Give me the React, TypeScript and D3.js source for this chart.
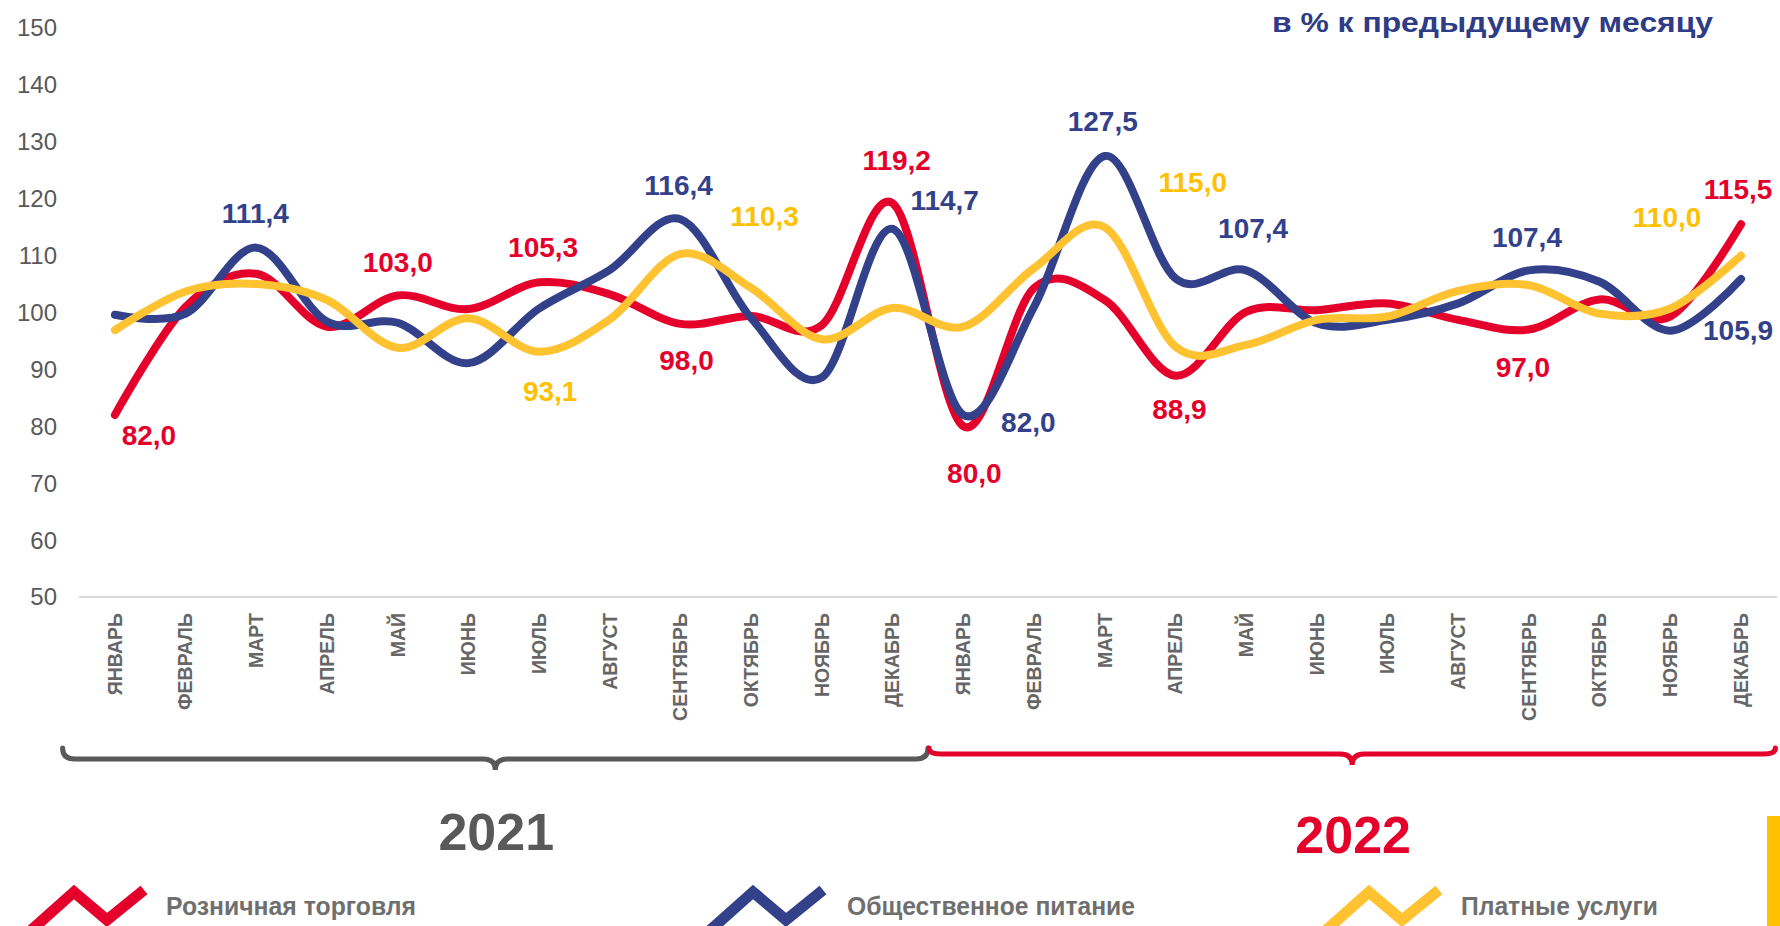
import React from 'react';
import * as d3 from 'd3';

const months = ['ЯНВАРЬ', 'ФЕВРАЛЬ', 'МАРТ', 'АПРЕЛЬ', 'МАЙ', 'ИЮНЬ', 'ИЮЛЬ', 'АВГУСТ', 'СЕНТЯБРЬ', 'ОКТЯБРЬ', 'НОЯБРЬ', 'ДЕКАБРЬ'];
const years = ['2021', '2022'];
const categories = years.flatMap((y) => months.map((m) => `${m} ${y}`));

const retail = [82.0, 101.0, 106.8, 97.5, 103.0, 100.6, 105.3, 103.2, 98.0, 99.4, 97.8, 119.2, 80.0, 104.3, 102.2, 88.9, 100.1, 100.4, 101.6, 98.7, 97.0, 102.3, 99.3, 115.5];
const catering = [99.6, 99.8, 111.4, 98.4, 98.2, 91.1, 100.7, 107.5, 116.4, 99.0, 88.6, 114.7, 82.0, 101.0, 127.5, 106.0, 107.4, 98.1, 98.7, 101.6, 107.4, 105.4, 96.8, 105.9];
const services = [96.9, 103.7, 105.0, 102.2, 93.8, 99.0, 93.1, 98.8, 110.3, 104.3, 95.3, 100.8, 97.5, 107.8, 115.0, 94.0, 94.3, 98.7, 99.3, 103.8, 104.8, 99.8, 100.7, 110.0];

const seriesNames = ['Розничная торговля', 'Общественное питание', 'Платные услуги'];
const yTicks = [50, 60, 70, 80, 90, 100, 110, 120, 130, 140, 150];
const title = 'в % к предыдущему месяцу';

const RED = '#E4002B';
const BLUE = '#33408A';
const YELLOW = '#FFC230';
const YELLOW_TXT = '#FFC000';
const GRAY = '#595959';
const FONT = '"Liberation Sans", Arial, Helvetica, sans-serif';

const series = [
  { name: seriesNames[0], values: retail, color: RED, label: RED },
  { name: seriesNames[1], values: catering, color: BLUE, label: BLUE },
  { name: seriesNames[2], values: services, color: YELLOW, label: YELLOW_TXT },
];

// annotation layout: which point gets a value label and where it sits relative to the point
const labelSpecs = [
  { s: 0, i: 0, dx: 34, dy: 20 },
  { s: 1, i: 2, dx: -1, dy: -34 },
  { s: 0, i: 4, dx: 0, dy: -33 },
  { s: 0, i: 6, dx: 4, dy: -35 },
  { s: 2, i: 6, dx: 11, dy: 39 },
  { s: 0, i: 8, dx: 6, dy: 36 },
  { s: 1, i: 8, dx: -2, dy: -34 },
  { s: 2, i: 8, dx: 84, dy: -38 },
  { s: 0, i: 11, dx: 4, dy: -43 },
  { s: 1, i: 11, dx: 52, dy: -29 },
  { s: 0, i: 12, dx: 11, dy: 47 },
  { s: 1, i: 12, dx: 65, dy: 7 },
  { s: 1, i: 14, dx: -2, dy: -35 },
  { s: 2, i: 14, dx: 88, dy: -45 },
  { s: 0, i: 15, dx: 4, dy: 34 },
  { s: 1, i: 16, dx: 7, dy: -42 },
  { s: 1, i: 20, dx: -2, dy: -33 },
  { s: 0, i: 20, dx: -6, dy: 38 },
  { s: 2, i: 23, dx: -74, dy: -38 },
  { s: 0, i: 23, dx: -3, dy: -35 },
  { s: 1, i: 23, dx: -3, dy: 51 },
];

const W = 1780;
const H = 926;

export default function App() {
  const x = d3.scaleBand<string>().domain(categories).range([79.6, 1776.4]).paddingInner(0).paddingOuter(0);
  const bw = x.bandwidth();
  const cx = (i: number) => (x(categories[i]) as number) + bw / 2;
  const y = d3.scaleLinear().domain([50, 150]).range([597, 28]);

  const line = d3
    .line<number>()
    .x((_, i) => cx(i))
    .y((v) => y(v))
    .curve(d3.curveCatmullRom.alpha(0));

  const fmt = (v: number) => d3.format('.1f')(v).replace('.', ',');

  // year brackets
  const groups = years.map((yr, gi) => {
    const first = gi * 12;
    const last = gi * 12 + 11;
    const left = gi === 0 ? (x(categories[first]) as number) - 17 : (x(categories[first]) as number) + 1;
    const right = (x(categories[last]) as number) + bw - (gi === 0 ? 0 : 1);
    return { yr, left, right, mid: (left + right) / 2, color: gi === 0 ? '#595959' : RED, top: 748, h: gi === 0 ? 759 : 754 };
  });

  const bracketPath = (l: number, r: number, m: number, top: number, h: number) => {
    const rr = 12;
    const tip = h + 11;
    return `M${l},${top} Q${l},${h} ${l + rr},${h} L${m - rr},${h} Q${m},${h} ${m},${tip} Q${m},${h} ${m + rr},${h} L${r - rr},${h} Q${r},${h} ${r},${top}`;
  };

  const legendLayout = [
    { icon: 34, text: 166, len: 250 },
    { icon: 713, text: 847, len: 288 },
    { icon: 1329, text: 1461, len: 197 },
  ];

  return (
    <svg
      width={W}
      height={H}
      viewBox={`0 0 ${W} ${H}`}
      style={{ position: 'absolute', left: 0, top: 0, background: '#fff', fontFamily: FONT }}
    >
      {/* title */}
      <text x={1713} y={32} textAnchor="end" fontSize={28} fontWeight="bold" fill="#2E3B85" textLength={441} lengthAdjust="spacingAndGlyphs">
        {title}
      </text>

      {/* y tick labels */}
      {yTicks.map((t) => (
        <text key={t} x={57} y={y(t)} dy="0.35em" textAnchor="end" fontSize={24} fill={GRAY}>
          {t}
        </text>
      ))}

      {/* x axis line */}
      <line x1={79} x2={1777} y1={y(50)} y2={y(50)} stroke="#D9D9D9" strokeWidth={2} />

      {/* month labels */}
      {categories.map((c, i) => (
        <text
          key={c}
          transform={`translate(${cx(i)},613) rotate(-90)`}
          textAnchor="end"
          dy="0.35em"
          fontSize={19.5}
          fontWeight="bold"
          fill="#666666"
        >
          {months[i % 12]}
        </text>
      ))}

      {/* lines */}
      {[series[0], series[1], series[2]].map((s) => (
        <path key={s.name} d={line(s.values) as string} fill="none" stroke={s.color} strokeWidth={8} strokeLinecap="round" strokeLinejoin="round" />
      ))}

      {/* value labels */}
      {labelSpecs.map((l, k) => {
        const s = series[l.s];
        const v = s.values[l.i];
        return (
          <text key={k} x={cx(l.i) + l.dx} y={y(v) + l.dy} dy="0.35em" textAnchor="middle" fontSize={28} fontWeight="bold" fill={s.label}>
            {fmt(v)}
          </text>
        );
      })}

      {/* brackets and years */}
      {groups.map((g) => (
        <g key={g.yr}>
          <path d={bracketPath(g.left, g.right, g.mid, g.top, g.h)} fill="none" stroke={g.color} strokeWidth={5} strokeLinecap="round" />
          <text x={g.mid + 1} y={g.yr === '2021' ? 850 : 853} textAnchor="middle" fontSize={52} fontWeight="bold" fill={g.color}>
            {g.yr}
          </text>
        </g>
      ))}

      {/* legend */}
      {series.map((s, k) => {
        const L = legendLayout[k];
        const x0 = L.icon;
        const pts = [
          [x0 - 6, 933],
          [x0 + 40, 892],
          [x0 + 73, 920],
          [x0 + 110, 890],
        ];
        return (
          <g key={s.name}>
            <polyline points={pts.map((p) => p.join(',')).join(' ')} fill="none" stroke={s.color} strokeWidth={11} strokeLinejoin="miter" />
            <text x={L.text} y={915} fontSize={26} fontWeight="bold" fill="#6F6F6F" textLength={L.len} lengthAdjust="spacingAndGlyphs">
              {s.name}
            </text>
          </g>
        );
      })}

      {/* right yellow bar */}
      <rect x={1767} y={816} width={13} height={110} fill={YELLOW_TXT} />
    </svg>
  );
}
